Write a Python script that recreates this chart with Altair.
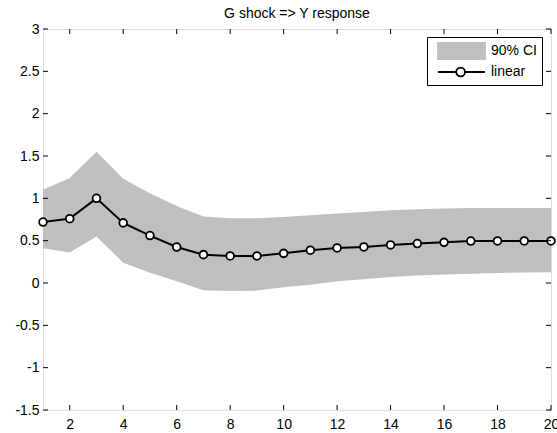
import altair as alt
import pandas as pd

# ---- data ----
steps = list(range(1, 21))
irf = [0.72, 0.76, 1.00, 0.71, 0.56, 0.425, 0.335, 0.32, 0.32, 0.35,
       0.387, 0.414, 0.426, 0.45, 0.466, 0.48, 0.495, 0.497, 0.497, 0.497]
ci_upper = [1.10, 1.24, 1.55, 1.23, 1.06, 0.91, 0.785, 0.765, 0.765, 0.78,
            0.80, 0.82, 0.84, 0.86, 0.87, 0.88, 0.885, 0.887, 0.887, 0.887]
ci_lower = [0.41, 0.36, 0.55, 0.24, 0.12, 0.02, -0.085, -0.095, -0.09, -0.05,
            -0.02, 0.02, 0.045, 0.07, 0.09, 0.10, 0.11, 0.118, 0.124, 0.126]
x_ticks = [2, 4, 6, 8, 10, 12, 14, 16, 18, 20]
y_ticks = [-1.5, -1, -0.5, 0, 0.5, 1, 1.5, 2, 2.5, 3]
legend_labels = ["90% CI", "linear"]
title_text = "G shock => Y response"

W, H = 508, 381
FONT = "Liberation Sans"
FS = 14
BAND = "#bfbfbf"

df = pd.DataFrame({"step": steps, "irf": irf, "lo": ci_lower, "hi": ci_upper})
xt = pd.DataFrame({"v": x_ticks})
yt = pd.DataFrame({"v": y_ticks})
lg = pd.DataFrame({"series": legend_labels})

xs = alt.Scale(domain=[1, 20], nice=False, zero=False)
ys = alt.Scale(domain=[-1.5, 3], nice=False, zero=False)

x_axis = alt.Axis(values=x_ticks, ticks=False, tickSize=0, domain=False, grid=False,
                  labelFlush=False, labelPadding=7, labelFont=FONT, labelFontSize=FS,
                  labelColor="black", title=None, labelExpr="datum.value + ''")
y_axis = alt.Axis(values=y_ticks, ticks=False, tickSize=0, domain=False, grid=False,
                  labelPadding=4, labelFont=FONT, labelFontSize=FS,
                  labelColor="black", title=None, labelExpr="datum.value + ''")

band = alt.Chart(df).mark_area(color=BAND, opacity=1).encode(
    x=alt.X("step:Q", scale=xs, axis=x_axis),
    y=alt.Y("lo:Q", scale=ys, axis=y_axis),
    y2="hi:Q",
)
line = alt.Chart(df).mark_line(color="black", strokeWidth=2).encode(
    x=alt.X("step:Q", scale=xs), y=alt.Y("irf:Q", scale=ys)
)
pts = alt.Chart(df).mark_point(shape="circle", filled=True, fill="white", stroke="black",
                               strokeWidth=1.8, size=60, opacity=1).encode(
    x=alt.X("step:Q", scale=xs), y=alt.Y("irf:Q", scale=ys)
)

TL = 5
bt = alt.Chart(xt).mark_rule(color="black", strokeWidth=1).encode(
    x=alt.X("v:Q", scale=xs), y=alt.value(H), y2=alt.value(H - TL))
tt = alt.Chart(xt).mark_rule(color="black", strokeWidth=1).encode(
    x=alt.X("v:Q", scale=xs), y=alt.value(0), y2=alt.value(TL))
lt = alt.Chart(yt).mark_rule(color="black", strokeWidth=1).encode(
    y=alt.Y("v:Q", scale=ys), x=alt.value(0), x2=alt.value(TL))
rt = alt.Chart(yt).mark_rule(color="black", strokeWidth=1).encode(
    y=alt.Y("v:Q", scale=ys), x=alt.value(W), x2=alt.value(W - TL))

rect_path = "M-0.375,-1H5.5V1H-0.375Z"
line_path = ("M-0.375,0H2M3,0H5.5"
             "M3,0A0.55,0.55,0,1,1,1.9,0A0.55,0.55,0,1,1,3,0")
leg = dict(title=None, orient="none", legendX=384, legendY=8)
legend_layer = alt.Chart(lg).mark_point(size=256, strokeWidth=1.8, opacity=1).encode(
    shape=alt.Shape("series:N", scale=alt.Scale(domain=legend_labels, range=[rect_path, line_path]),
                    legend=alt.Legend(strokeColor="black", fillColor="white", padding=5,
                                      symbolSize=256, symbolStrokeWidth=1.8,
                                      labelOffset=41, rowPadding=0,
                                      labelFont=FONT, labelFontSize=FS, labelColor="black",
                                      cornerRadius=0, **leg)),
    fill=alt.Fill("series:N", scale=alt.Scale(domain=legend_labels, range=[BAND, "white"]),
                  legend=alt.Legend(**leg)),
    stroke=alt.Stroke("series:N", scale=alt.Scale(domain=legend_labels, range=[BAND, "black"]),
                      legend=alt.Legend(**leg)),
).transform_filter("false")

chart = alt.layer(band, line, pts, bt, tt, lt, rt, legend_layer).properties(
    width=W, height=H,
    title=alt.TitleParams(title_text, font=FONT, fontSize=FS, fontWeight="normal",
                          color="black", anchor="middle", offset=1),
    autosize=alt.AutoSizeParams(type="none"),
    padding={"left": 43, "top": 29, "right": 6, "bottom": 23},
).configure_view(stroke="black", strokeWidth=1.2).configure(background="white")

chart.save("out.html", embed_options={"renderer": "svg", "actions": False})
